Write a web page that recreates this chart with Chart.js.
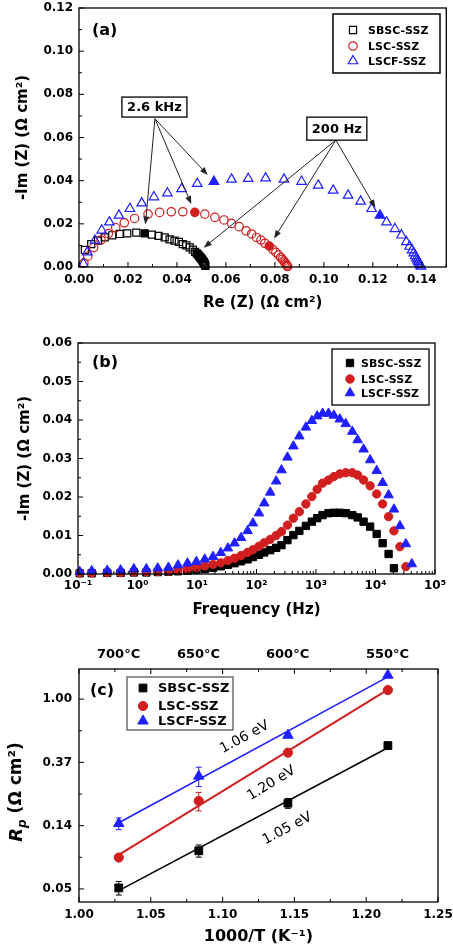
<!DOCTYPE html>
<html><head><meta charset="utf-8">
<script src="https://cdn.jsdelivr.net/npm/chart.js@4/dist/chart.umd.min.js"></script>
<style>
html,body{margin:0;padding:0;background:#fff;width:453px;height:946px;overflow:hidden}
canvas{position:absolute;left:0}
</style></head><body>
<canvas id="ca" width="453" height="320" style="top:0px"></canvas>
<canvas id="cb" width="453" height="300" style="top:320px"></canvas>
<canvas id="cc" width="453" height="326" style="top:620px"></canvas>
<script>
// ---------------- DATA ----------------
const seriesNames = ['SBSC-SSZ','LSC-SSZ','LSCF-SSZ'];

// (a) Nyquist: Re(Z), -Im(Z) in ohm cm2
const aReSBSC = [0.0024,0.0050,0.0078,0.0105,0.0136,0.0166,0.0197,0.0234,0.0268,0.0298,0.0325,0.0350,0.0370,0.0390,0.0408,0.0424,0.0438,0.0452,0.0465,0.0474,0.0481,0.0486,0.0491,0.0495,0.0499,0.0502,0.0505,0.0508,0.0510,0.0512,0.0514,0.0515,0.0516];
const aImSBSC = [0.0079,0.0106,0.0122,0.0137,0.0147,0.0153,0.0156,0.0159,0.0156,0.0150,0.0144,0.0137,0.0128,0.0122,0.0116,0.0106,0.0100,0.0091,0.0080,0.0070,0.0063,0.0057,0.0051,0.0045,0.0040,0.0035,0.0030,0.0025,0.0021,0.0017,0.0013,0.0009,0.0005];
const aReLSC = [0.0020,0.0036,0.0060,0.0090,0.0120,0.0150,0.0185,0.0227,0.0282,0.0329,0.0377,0.0424,0.0473,0.0514,0.0555,0.0592,0.0623,0.0654,0.0682,0.0705,0.0725,0.0743,0.0759,0.0777,0.0791,0.0804,0.0815,0.0824,0.0831,0.0837,0.0841,0.0845,0.0848,0.0850,0.0852];
const aImLSC = [0.0018,0.0050,0.0090,0.0125,0.0155,0.0182,0.0205,0.0225,0.0245,0.0253,0.0256,0.0256,0.0253,0.0245,0.0230,0.0218,0.0202,0.0187,0.0168,0.0153,0.0137,0.0125,0.0110,0.0097,0.0082,0.0068,0.0055,0.0044,0.0035,0.0027,0.0020,0.0014,0.0009,0.0005,0.0002];
const aReLSCF = [0.0018,0.0034,0.0065,0.0093,0.0124,0.0163,0.0208,0.0256,0.0306,0.0361,0.0419,0.0483,0.0551,0.0623,0.0691,0.0762,0.0837,0.0909,0.0977,0.1038,0.1099,0.1150,0.1195,0.1229,0.1256,0.1290,0.1317,0.1337,0.1350,0.1360,0.1367,0.1373,0.1378,0.1382,0.1386,0.1390,0.1394,0.1397];
const aImLSCF = [0.0015,0.0069,0.0123,0.0170,0.0208,0.0239,0.0270,0.0296,0.0324,0.0342,0.0362,0.0386,0.0396,0.0406,0.0409,0.0412,0.0406,0.0396,0.0378,0.0355,0.0332,0.0304,0.0270,0.0239,0.0208,0.0177,0.0147,0.0116,0.0095,0.0078,0.0064,0.0052,0.0041,0.0032,0.0024,0.0016,0.0009,0.0003];
// indices of the filled (highlighted) points per series
const aIdx2600Hz = [8, 12, 12];
const aIdx200Hz  = [20, 23, 23];
const aTickX = [0,0.02,0.04,0.06,0.08,0.10,0.12,0.14];
const aTickY = [0,0.02,0.04,0.06,0.08,0.10,0.12];

// (b) Bode: frequency (Hz) and -Im(Z)
const freqHz = [0.107,0.17,0.31,0.52,0.87,1.41,2.19,3.31,4.79,6.92,9.77,13.5,18.6,25.1,33.1,42.7,55.0,70.8,87.1,110,135,170,214,263,331,417,525,676,851,1047,1288,1622,1995,2512,3162,4074,5012,6310,8128,10470,13180,16600,20420,25700,32360,40740];
const bImSBSC = [0.0002,0.0002,0.0003,0.0003,0.0004,0.0004,0.0005,0.0006,0.0007,0.0009,0.0011,0.0013,0.0016,0.0020,0.0024,0.0028,0.0033,0.0038,0.0044,0.0050,0.0056,0.0062,0.0068,0.0075,0.0088,0.0101,0.0112,0.0125,0.0136,0.0145,0.0153,0.0158,0.0159,0.0159,0.0158,0.0153,0.0147,0.0136,0.0123,0.0104,0.0080,0.0052,0.0015];
const bImLSC = [0.0003,0.0003,0.0004,0.0004,0.0005,0.0006,0.0007,0.0008,0.0010,0.0013,0.0016,0.0021,0.0025,0.0029,0.0035,0.0041,0.0048,0.0056,0.0063,0.0072,0.0081,0.0090,0.0100,0.0110,0.0127,0.0145,0.0162,0.0182,0.0201,0.0220,0.0236,0.0244,0.0253,0.0260,0.0263,0.0263,0.0257,0.0244,0.0229,0.0208,0.0182,0.0149,0.0112,0.0071,0.0019];
const bImLSCF = [0.0006,0.0008,0.0009,0.0010,0.0013,0.0013,0.0015,0.0017,0.0023,0.0028,0.0032,0.0038,0.0045,0.0055,0.0067,0.0080,0.0094,0.0112,0.0132,0.0158,0.0184,0.0212,0.0241,0.0270,0.0303,0.0332,0.0358,0.0381,0.0398,0.0410,0.0417,0.0417,0.0412,0.0402,0.0390,0.0370,0.0348,0.0324,0.0296,0.0268,0.0237,0.0205,0.0168,0.0125,0.0078,0.0026];
const bTickX = [0.1,1,10,100,1000,10000,100000];
const bTickXLabels = ['10⁻¹','10⁰','10¹','10²','10³','10⁴','10⁵'];
const bTickY = [0,0.01,0.02,0.03,0.04,0.05,0.06];

// (c) Arrhenius: 1000/T (1/K) and Rp (ohm cm2)
const cInvT = [1.0277,1.0834,1.1455,1.2151];
const cRpSBSC = [0.0506,0.0910,0.193,0.480];
const cRpLSC  = [0.0818,0.200,0.429,1.154];
const cRpLSCF = [0.140,0.296,0.565,1.46];
const cErrSBSC = [0.0054,0.0087,0.015,0];
const cErrLSC  = [0.004,0.029,0.010,0];
const cErrLSCF = [0.013,0.045,0.020,0.020];
const cEaLabels = ['1.05 eV','1.20 eV','1.06 eV'];
const cTickX = [1.00,1.05,1.10,1.15,1.20,1.25];
const cTickYExp = [-3,-2,-1,0];
const cTopTempC = [700,650,600,550];
const cTopLabels = ['700°C','650°C','600°C','550°C'];

// ---------------- STYLE ----------------
const COL = ['#000000','#d11f1f','#1f1fff'];
const STYLE = ['rect','circle','triangle'];
const FONT = "'DejaVu Sans', sans-serif";
Chart.defaults.font.family = FONT;
Chart.defaults.font.weight = 'bold';
Chart.defaults.color = '#000';
Chart.defaults.animation = false;

function pts(xs, ys){ return ys.map((y,i)=>({x:xs[i], y:y})); }
function fixW(w){ return s=>{ s.width=w; s.paddingLeft=s.paddingRight=s.paddingTop=s.paddingBottom=0; }; }
function fixH(h){ return s=>{ s.height=h; s.paddingLeft=s.paddingRight=s.paddingTop=s.paddingBottom=0; }; }
function setTicks(vals){ return s=>{ s.ticks = vals.map(v=>({value:v})); s.min=s.options.min; s.max=s.options.max; }; }
function halfway(arr){ const r=[]; for(let i=0;i<arr.length-1;i++) r.push((arr[i]+arr[i+1])/2); return r; }
function logMinor(arr){ const r=[]; for(let i=0;i<arr.length-1;i++) for(let m=2;m<10;m++) r.push(arr[i]*m); return r; }

function marker(ctx, style, x, y, r, fill, stroke, lw){
  ctx.beginPath();
  if(style==='rect'){ const s=r*Math.SQRT1_2; ctx.rect(x-s,y-s,2*s,2*s); }
  else if(style==='circle'){ ctx.arc(x,y,r,0,Math.PI*2); }
  else { let a=0; ctx.moveTo(x+Math.sin(a)*r, y-Math.cos(a)*r);
    a+=2*Math.PI/3; ctx.lineTo(x+Math.sin(a)*r, y-Math.cos(a)*r);
    a+=2*Math.PI/3; ctx.lineTo(x+Math.sin(a)*r, y-Math.cos(a)*r); ctx.closePath(); }
  if(fill){ ctx.fillStyle=fill; ctx.fill(); }
  if(stroke){ ctx.strokeStyle=stroke; ctx.lineWidth=lw; ctx.stroke(); }
}

const deco = {
  id:'deco',
  beforeDatasetsDraw(chart, args, o){
    if(!o.errors) return;
    const ctx=chart.ctx; ctx.save();
    o.errors.forEach(e=>{
      const meta=chart.getDatasetMeta(e.ds); const ys=chart.scales.y;
      e.err.forEach((er,i)=>{
        if(!er) return;
        const p=meta.data[i]; const v=chart.data.datasets[e.ds].data[i].y;
        const y1=ys.getPixelForValue(v+er), y2=ys.getPixelForValue(Math.max(v-er,1e-6));
        ctx.strokeStyle=e.color; ctx.lineWidth=1;
        ctx.beginPath(); ctx.moveTo(p.x,y1); ctx.lineTo(p.x,y2);
        ctx.moveTo(p.x-3,y1); ctx.lineTo(p.x+3,y1); ctx.moveTo(p.x-3,y2); ctx.lineTo(p.x+3,y2); ctx.stroke();
      });
    });
    ctx.restore();
  },
  afterDraw(chart, args, o){
    const ctx=chart.ctx, ca=chart.chartArea;
    ctx.save();
    ctx.strokeStyle='#000'; ctx.lineWidth=1.3;
    ctx.strokeRect(ca.left, ca.top, ca.right-ca.left, ca.bottom-ca.top);
    ctx.lineWidth=1;
    (o.marks||[]).forEach(m=>{
      const sc=chart.scales[m.axis];
      const draw=(v,len)=>{ const p=sc.getPixelForValue(v); ctx.beginPath();
        if(m.side==='bottom'){ctx.moveTo(p,ca.bottom);ctx.lineTo(p,ca.bottom-len);}
        else if(m.side==='top'){ctx.moveTo(p,ca.top);ctx.lineTo(p,ca.top+len);}
        else {ctx.moveTo(ca.left,p);ctx.lineTo(ca.left+len,p);}
        ctx.stroke(); };
      m.major.forEach(v=>draw(v,5)); m.minor.forEach(v=>draw(v,3));
    });
    // panel label
    if(o.panel){ ctx.fillStyle='#000'; ctx.font='bold '+o.panel.size+'px '+FONT; ctx.textBaseline='middle'; ctx.textAlign='left';
      ctx.fillText(o.panel.text, ca.left+o.panel.dx, ca.top+o.panel.dy); }
    // callouts with arrows
    (o.callouts||[]).forEach(c=>{
      const xs=chart.scales.x, ys=chart.scales.y;
      const ox=xs.getPixelForValue(c.ox), oy=ys.getPixelForValue(c.oy);
      ctx.strokeStyle='#222'; ctx.fillStyle='#222'; ctx.lineWidth=1;
      c.targets.forEach(t=>{
        const p=chart.getDatasetMeta(t[0]).data[t[1]];
        const dx=p.x-ox, dy=p.y-oy, L=Math.hypot(dx,dy), ux=dx/L, uy=dy/L;
        const ex=p.x-ux*9, ey=p.y-uy*9;
        ctx.beginPath(); ctx.moveTo(ox,oy); ctx.lineTo(ex-ux*4, ey-uy*4); ctx.stroke();
        const hl=8, hw=3;
        ctx.beginPath(); ctx.moveTo(ex,ey);
        ctx.lineTo(ex-ux*hl-uy*hw, ey-uy*hl+ux*hw);
        ctx.lineTo(ex-ux*hl+uy*hw, ey-uy*hl-ux*hw); ctx.closePath(); ctx.fill();
      });
      const cx=xs.getPixelForValue(c.cx), cy=ys.getPixelForValue(c.cy);
      ctx.fillStyle='#fff'; ctx.fillRect(cx-c.w/2, cy-c.h/2, c.w, c.h);
      ctx.strokeStyle='#000'; ctx.lineWidth=1.3; ctx.strokeRect(cx-c.w/2, cy-c.h/2, c.w, c.h);
      ctx.fillStyle='#000'; ctx.font='bold 13px '+FONT; ctx.textAlign='center'; ctx.textBaseline='middle';
      ctx.fillText(c.text, cx, cy+1);
    });
    // activation energy labels
    (o.eV||[]).forEach(e=>{
      const m=chart.getDatasetMeta(e.fit).data; const ang=Math.atan2(m[1].y-m[0].y, m[1].x-m[0].x);
      const x=chart.scales.x.getPixelForValue(e.x), y=chart.scales.y.getPixelForValue(e.y);
      ctx.save(); ctx.translate(x,y); ctx.rotate(ang);
      ctx.fillStyle='#000'; ctx.font='normal 14px '+FONT; ctx.textAlign='center'; ctx.textBaseline='middle';
      ctx.fillText(e.text,0,0); ctx.restore();
    });
    // legend
    if(o.legend){ const L=o.legend;
      ctx.fillStyle='#fff'; ctx.fillRect(L.x,L.y,L.w,L.h);
      ctx.strokeStyle=L.border; ctx.lineWidth=L.bw; ctx.strokeRect(L.x,L.y,L.w,L.h);
      L.items.forEach((di,k)=>{
        const ds=chart.data.datasets[di];
        marker(ctx, ds.pointStyle, L.mx, L.rows[k], ds.pointRadius, L.filled?ds.pointBorderColor:null, ds.pointBorderColor, L.filled?1:1.2);
        ctx.fillStyle='#000'; ctx.font='bold '+L.size+'px '+FONT; ctx.textAlign='left'; ctx.textBaseline='middle';
        ctx.fillText(ds.label, L.tx, L.rows[k]+1);
      });
    }
    // custom rotated y title (R_p)
    if(o.rpTitle){ const t=o.rpTitle;
      ctx.save(); ctx.translate(t.x, t.y); ctx.rotate(-Math.PI/2); ctx.fillStyle='#000'; ctx.textBaseline='middle'; ctx.textAlign='left';
      const f1='italic bold 18px '+FONT, f2='italic bold 12px '+FONT, f3='bold 17px '+FONT;
      ctx.font=f1; const w1=ctx.measureText('R').width; ctx.font=f2; const w2=ctx.measureText('p').width; ctx.font=f3; const w3=ctx.measureText(' (Ω cm²)').width;
      let x=-(w1+w2+w3)/2;
      ctx.font=f1; ctx.fillText('R',x,0); x+=w1;
      ctx.font=f2; ctx.fillText('p',x,6); x+=w2;
      ctx.font=f3; ctx.fillText(' (Ω cm²)',x,0);
      ctx.restore();
    }
    ctx.restore();
  }
};

function baseAxis(extra){
  return Object.assign({grid:{display:false, drawTicks:false}, border:{display:false}}, extra);
}

// ---------------- CHART A ----------------
const aSeries = [[aReSBSC,aImSBSC],[aReLSC,aImLSC],[aReLSCF,aImLSCF]];
const dsA = aSeries.map((s,k)=>({
  label: seriesNames[k], data: pts(s[0], s[1]), showLine:false, clip:false, order:3-k,
  pointStyle: STYLE[k], pointRadius:[5,4.2,5.5][k], pointBorderWidth:1.2, pointBorderColor: COL[k],
  pointBackgroundColor: s[1].map((v,i)=> (i===aIdx2600Hz[k]||i===aIdx200Hz[k]) ? COL[k] : 'rgba(0,0,0,0)')
}));
new Chart(document.getElementById('ca'), {
  type:'scatter', data:{datasets: dsA},
  options:{ responsive:false, events:[],
    layout:{padding:{top:8,right:6,left:0,bottom:0}},
    plugins:{legend:{display:false}, tooltip:{enabled:false},
      deco:{
        marks:[{axis:'x',side:'bottom',major:aTickX,minor:halfway(aTickX.concat([0.16]))},
               {axis:'y',side:'left',major:aTickY,minor:halfway(aTickY)}],
        panel:{text:'(a)', dx:13, dy:23, size:16},
        callouts:[{text:'2.6 kHz', cx:0.0308, cy:0.0741, w:65, h:20, ox:0.0310, oy:0.0687, targets:[[0,aIdx2600Hz[0]],[1,aIdx2600Hz[1]],[2,aIdx2600Hz[2]]]},
                  {text:'200 Hz', cx:0.1053, cy:0.0641, w:60, h:23, ox:0.1049, oy:0.0588, targets:[[0,aIdx200Hz[0]],[1,aIdx200Hz[1]],[2,aIdx200Hz[2]]]}],
        legend:{x:333,y:14,w:107,h:59,rows:[30,46,61],mx:353,tx:368,size:11,items:[0,1,2],filled:false,border:'#000',bw:1.5}
      }},
    scales:{
      x: baseAxis({type:'linear', min:0, max:0.15, afterBuildTicks:setTicks(aTickX), afterFit:fixH(53),
        ticks:{padding:6, font:{size:12}, autoSkip:false, maxRotation:0, callback:v=>Number(v).toFixed(2)},
        title:{display:true, text:'Re (Z) (Ω cm²)', font:{size:15}, padding:{top:0,bottom:8}}}),
      y: baseAxis({type:'linear', min:0, max:0.12, afterBuildTicks:setTicks(aTickY), afterFit:fixW(79),
        ticks:{padding:6, font:{size:12}, autoSkip:false, callback:v=>Number(v).toFixed(2)},
        title:{display:true, text:'-Im (Z) (Ω cm²)', font:{size:15}, padding:{top:14,bottom:0}}})
    }
  },
  plugins:[deco]
});

// ---------------- CHART B ----------------
const bSeries = [bImSBSC,bImLSC,bImLSCF];
const dsB = bSeries.map((s,k)=>({
  label: seriesNames[k], data: pts(freqHz, s), showLine:false, clip:false, order:3-k,
  pointStyle: STYLE[k], pointRadius:[5.2,4.2,5.5][k], pointBorderWidth:1, pointBorderColor: COL[k], pointBackgroundColor: COL[k]
}));
new Chart(document.getElementById('cb'), {
  type:'scatter', data:{datasets: dsB},
  options:{ responsive:false, events:[],
    layout:{padding:{top:23,right:18,left:0,bottom:0}},
    plugins:{legend:{display:false}, tooltip:{enabled:false},
      deco:{
        marks:[{axis:'x',side:'bottom',major:bTickX,minor:logMinor(bTickX)},
               {axis:'y',side:'left',major:bTickY,minor:halfway(bTickY)}],
        panel:{text:'(b)', dx:14, dy:20, size:16},
        legend:{x:332,y:29,w:97,h:56,rows:[43,59,73],mx:350,tx:361,size:11,items:[0,1,2],filled:true,border:'#000',bw:1.3}
      }},
    scales:{
      x: baseAxis({type:'logarithmic', min:0.1, max:100000, afterBuildTicks:setTicks(bTickX), afterFit:fixH(46),
        ticks:{padding:5, font:{size:12}, autoSkip:false, maxRotation:0, callback:(v,i)=>bTickXLabels[i]},
        title:{display:true, text:'Frequency (Hz)', font:{size:15}, padding:{top:0,bottom:1}}}),
      y: baseAxis({type:'linear', min:0, max:0.06, afterBuildTicks:setTicks(bTickY), afterFit:fixW(78),
        ticks:{padding:6, font:{size:12}, autoSkip:false, callback:v=>Number(v).toFixed(2)},
        title:{display:true, text:'-Im (Z) (Ω cm²)', font:{size:15}, padding:{top:16,bottom:0}}})
    }
  },
  plugins:[deco]
});

// ---------------- CHART C ----------------
function lnFit(xs, ys){
  const n=xs.length, ly=ys.map(Math.log);
  const mx=xs.reduce((a,b)=>a+b,0)/n, my=ly.reduce((a,b)=>a+b,0)/n;
  let sxy=0,sxx=0; for(let i=0;i<n;i++){ sxy+=(xs[i]-mx)*(ly[i]-my); sxx+=(xs[i]-mx)*(xs[i]-mx); }
  const b=sxy/sxx, a=my-b*mx; return x=>Math.exp(a+b*x);
}
const cSeries = [cRpSBSC,cRpLSC,cRpLSCF];
const cErrs = [cErrSBSC,cErrLSC,cErrLSCF];
const dsC = cSeries.map((s,k)=>({
  label: seriesNames[k], data: pts(cInvT, s), showLine:false, clip:false, order:3-k,
  pointStyle: STYLE[k], pointRadius:[5.5,4.6,6][k], pointBorderWidth:1, pointBorderColor: COL[k], pointBackgroundColor: COL[k]
}));
cSeries.forEach((s,k)=>{
  const f=lnFit(cInvT, s); const x0=Math.min(...cInvT), x1=Math.max(...cInvT);
  dsC.push({label:'fit '+seriesNames[k], data:[{x:x0,y:f(x0)},{x:x1,y:f(x1)}], showLine:true, pointRadius:0,
    borderColor: COL[k], borderWidth:[1.6,2,1.6][k], order:10, clip:false});
});
const cTickY = cTickYExp.map(e=>Math.exp(e));
new Chart(document.getElementById('cc'), {
  type:'scatter', data:{datasets: dsC},
  options:{ responsive:false, events:[],
    layout:{padding:{top:0,right:15,left:0,bottom:0}},
    plugins:{legend:{display:false}, tooltip:{enabled:false},
      deco:{
        marks:[{axis:'x',side:'bottom',major:cTickX,minor:halfway(cTickX)},
               {axis:'x',side:'top',major:cTickX,minor:halfway(cTickX)},
               {axis:'y',side:'left',major:cTickY,minor:halfway(cTickYExp).map(e=>Math.exp(e))}],
        panel:{text:'(c)', dx:11, dy:22, size:16},
        errors: cErrs.map((e,k)=>({ds:k, err:e, color:COL[k]})),
        eV:[{text:cEaLabels[2], x:1.1153, y:0.547, fit:5},{text:cEaLabels[1], x:1.134, y:0.264, fit:4},{text:cEaLabels[0], x:1.145, y:0.129, fit:3}],
        legend:{x:127,y:57,w:106,h:53,rows:[68,86,101],mx:143,tx:158,size:13,items:[0,1,2],filled:true,border:'#555',bw:1.3},
        rpTitle:{x:17, y:172}
      }},
    scales:{
      x: baseAxis({type:'linear', position:'bottom', min:1.0, max:1.25, afterBuildTicks:setTicks(cTickX), afterFit:fixH(44),
        ticks:{padding:6, font:{size:12}, autoSkip:false, maxRotation:0, callback:v=>Number(v).toFixed(2)},
        title:{display:true, text:'1000/T (K⁻¹)', font:{size:16}, padding:{top:0,bottom:0}}}),
      x2: baseAxis({type:'linear', position:'top', min:1.0, max:1.25, afterBuildTicks:setTicks(cTopTempC.map(t=>1000/(t+273.15))), afterFit:fixH(49),
        ticks:{padding:7, font:{size:13}, autoSkip:false, maxRotation:0, callback:(v,i)=>cTopLabels[i]}}),
      y: baseAxis({type:'logarithmic', min:0.0405, max:1.61, afterBuildTicks:setTicks(cTickY), afterFit:fixW(79),
        ticks:{padding:7, font:{size:12}, autoSkip:false, callback:v=>Number(v).toFixed(2)}})
    }
  },
  plugins:[deco]
});
</script>
</body></html>
